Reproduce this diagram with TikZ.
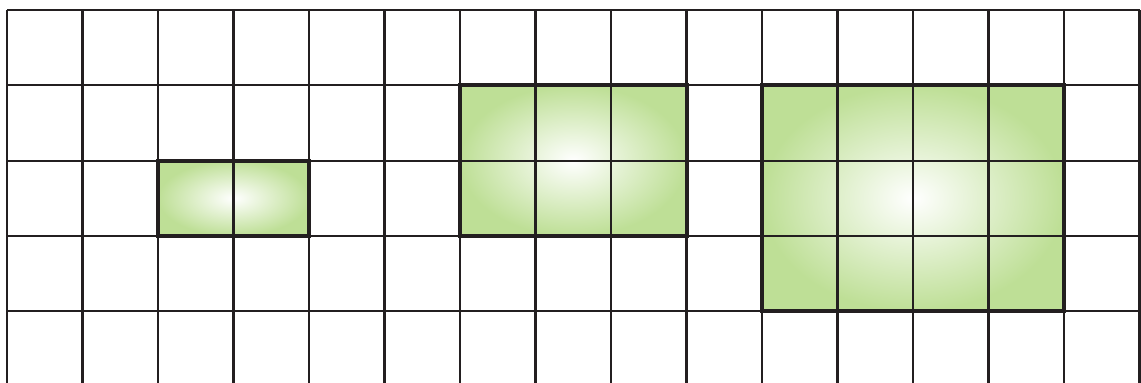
\documentclass[tikz,border=0pt]{standalone}
\definecolor{gridc}{RGB}{35,31,32}
\definecolor{greenc}{RGB}{190,223,150}
\begin{document}
\begin{tikzpicture}[x=1pt,y=-1pt,
  gridline/.style={draw=gridc,line width=2.1pt},
  framebox/.style={draw=gridc,line width=4pt},
  shadebox/.style={inner color=white,outer color=greenc}]
\useasboundingbox (0,0) rectangle (1141,383);
% shaded regions
\shade[shadebox] ({7+75.5*2},{10+75.3*2}) rectangle ({7+75.5*4},{10+75.3*3});
\shade[shadebox] ({7+75.5*6},{10+75.3*1}) rectangle ({7+75.5*9},{10+75.3*3});
\shade[shadebox] ({7+75.5*10},{10+75.3*1}) rectangle ({7+75.5*14},{10+75.3*4});
% grid
\foreach \i in {0,...,15}
  \draw[gridline] ({7+75.5*\i},10) -- ({7+75.5*\i},383);
\foreach \j in {0,...,4}
  \draw[gridline] (7,{10+75.3*\j}) -- (1140,{10+75.3*\j});
% frames
\draw[framebox] ({7+75.5*2},{10+75.3*2}) rectangle ({7+75.5*4},{10+75.3*3});
\draw[framebox] ({7+75.5*6},{10+75.3*1}) rectangle ({7+75.5*9},{10+75.3*3});
\draw[framebox] ({7+75.5*10},{10+75.3*1}) rectangle ({7+75.5*14},{10+75.3*4});
\end{tikzpicture}
\end{document}
